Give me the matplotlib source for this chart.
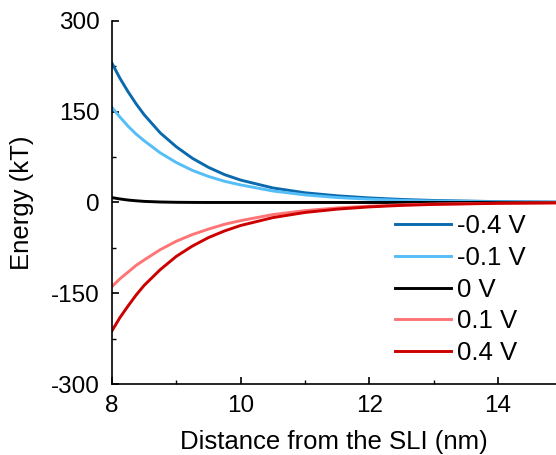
import matplotlib
matplotlib.use("Agg")
import matplotlib.pyplot as plt
from matplotlib.ticker import MultipleLocator

plt.rcParams['font.family'] = ['Liberation Sans', 'DejaVu Sans']
plt.rcParams['axes.unicode_minus'] = False

# distance from the SLI (nm)
distance = [8, 8.125, 8.25, 8.375, 8.5, 8.75, 9, 9.25, 9.5, 9.75, 10, 10.5, 11, 11.5, 12, 12.5, 13, 14, 15]

# energy (kT)
e_m04 = [230, 205, 183, 163, 145, 115, 92, 73, 58, 46, 37, 24, 16, 11, 7.5, 5, 3.3, 1.4, 0.6]
e_m01 = [157, 141, 126, 113, 102, 82, 66, 53, 43, 35, 29, 19, 12.5, 8.2, 5.4, 3.5, 2.3, 1.0, 0.4]
e_0 = [8, 5.8, 4, 2.8, 1.8, 0.8, 0.3, 0.1, 0, 0, 0, 0, 0, 0, 0, 0, 0, 0, 0]
e_p01 = [-139, -126, -115, -104, -95, -78, -64, -53, -44, -36, -30, -20, -13.5, -9, -6, -4, -2.7, -1.2, -0.5]
e_p04 = [-212, -190, -171, -153, -137, -111, -89, -72, -58, -47, -38, -25, -16.5, -11, -7.3, -4.8, -3.2, -1.4, -0.6]

labels = ['-0.4 V', '-0.1 V', '0 V', '0.1 V', '0.4 V']
colors = ['#0a6aad', '#55bdf8', '#000000', '#ff7575', '#cc0000']
series = [e_m04, e_m01, e_0, e_p01, e_p04]

fig = plt.figure(figsize=(5.56, 4.55), dpi=100)
ax = fig.add_axes([0.2014, 0.156, 0.7986, 0.798])

for y, c, lab in zip(series, colors, labels):
    ax.plot(distance, y, color=c, lw=2.1, label=lab)

ax.set_xlim(8, 14.9)
ax.set_ylim(-300, 300)
ax.xaxis.set_major_locator(MultipleLocator(2))
ax.xaxis.set_minor_locator(MultipleLocator(1))
ax.yaxis.set_major_locator(MultipleLocator(150))
ax.yaxis.set_minor_locator(MultipleLocator(75))

for s in ['top', 'right']:
    ax.spines[s].set_visible(False)
for s in ['left', 'bottom']:
    ax.spines[s].set_linewidth(1.2)

ax.tick_params(which='major', direction='in', length=5, width=1.2, labelsize=17.5)
ax.tick_params(axis='x', which='major', pad=8)
ax.tick_params(axis='y', which='major', pad=9)
ax.tick_params(which='minor', direction='in', length=3, width=1.0)

ax.set_xlabel('Distance from the SLI (nm)', fontsize=18.5, labelpad=9)
ax.set_ylabel('Energy (kT)', fontsize=18.5, labelpad=12)

ax.legend(loc='lower left', bbox_to_anchor=(0.637, 0.052), frameon=False, fontsize=18.5,
          handlelength=2.2, labelspacing=0.3, handletextpad=0.23,
          borderpad=0, borderaxespad=0)

fig.savefig('out.png', dpi=100)
